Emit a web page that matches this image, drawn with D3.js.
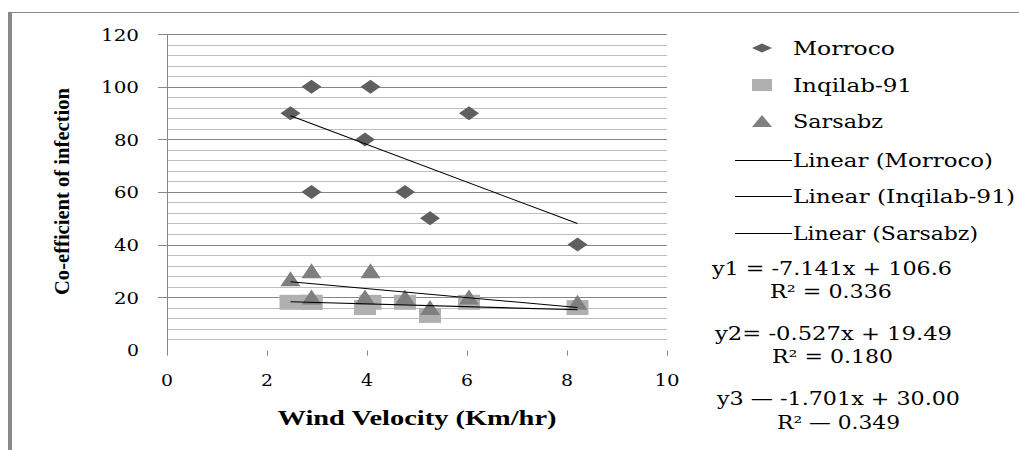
<!DOCTYPE html>
<html>
<head>
<meta charset="utf-8">
<script src="https://cdnjs.cloudflare.com/ajax/libs/d3/7.8.5/d3.min.js"></script>
<style>
  body { margin: 0; background: #fff; }
  text { fill: #000; }
</style>
</head>
<body>
<div id="chart"></div>
<script>
// Data
var windVelocity = [2.47, 2.89, 2.89, 3.96, 4.07, 4.76, 5.26, 6.04, 8.21];
var morroco   = [90, 100, 60, 80, 100, 60, 50, 90, 40];
var inqilab91 = [18, 18, 18, 16, 18, 18, 13, 18, 16];
var sarsabz   = [27, 30, 20, 20, 30, 20, 16, 20, 18];

var seriesNames = ["Morroco", "Inqilab-91", "Sarsabz"];
var slopes = [-7.141, -0.527, -1.701];
var intercepts = [106.6, 19.49, 30.00];

var xTicks = [0, 2, 4, 6, 8, 10];
var yTicks = [0, 20, 40, 60, 80, 100, 120];
var yMinorTicks = d3.range(0, 121, 4);

var equationLabels = ["y1 = -7.141x + 106.6", "R\u00b2 = 0.336",
                      "y2= -0.527x + 19.49", "R\u00b2 = 0.180",
                      "y3 \u2014 -1.701x + 30.00", "R\u00b2 \u2014 0.349"];

// SVG area
var svgWidth = 1019;
var svgHeight = 450;
var serif = "'DejaVu Serif', 'Liberation Serif', serif";
var serifBold = "'Liberation Serif', 'Times New Roman', serif";

var svg = d3.select("#chart")
  .append("svg")
  .attr("width", svgWidth)
  .attr("height", svgHeight)
  .attr("font-family", serif);

// outer frame (top + left edges only show)
svg.append("line").attr("x1", 10).attr("x2", svgWidth).attr("y1", 12.5).attr("y2", 12.5)
  .attr("stroke", "#8a8a8a").attr("stroke-width", 1.2);
svg.append("rect").attr("x", 8).attr("y", 12).attr("width", 4).attr("height", svgHeight - 12)
  .attr("fill", "#8a8a8a");

// scales
var xScale = d3.scaleLinear().domain([0, 10]).range([167, 667]);
var yScale = d3.scaleLinear().domain([0, 120]).range([349.6, 34.3]);

// minor gridlines
svg.append("g").selectAll("line")
  .data(yMinorTicks.filter(d => d % 20 !== 0))
  .enter().append("line")
  .attr("x1", xScale(0)).attr("x2", xScale(10))
  .attr("y1", d => Math.round(yScale(d)) + 0.5).attr("y2", d => Math.round(yScale(d)) + 0.5)
  .attr("stroke", "#bdbdbd");

// major gridlines + left ticks
svg.append("g").selectAll("line")
  .data(yTicks.filter(d => d > 0))
  .enter().append("line")
  .attr("x1", xScale(0) - 9).attr("x2", xScale(10))
  .attr("y1", d => Math.round(yScale(d)) + 0.5).attr("y2", d => Math.round(yScale(d)) + 0.5)
  .attr("stroke", "#868686");

// y axis line
svg.append("line")
  .attr("x1", xScale(0) + 0.5).attr("x2", xScale(0) + 0.5)
  .attr("y1", yScale(120)).attr("y2", yScale(0) + 6)
  .attr("stroke", "#868686");

// x tick marks
svg.append("g").selectAll("line")
  .data(xTicks.filter(d => d > 0))
  .enter().append("line")
  .attr("x1", d => Math.round(xScale(d)) + 0.5).attr("x2", d => Math.round(xScale(d)) + 0.5)
  .attr("y1", yScale(0) + 1).attr("y2", yScale(0) + 6)
  .attr("stroke", "#868686");

// y tick labels
svg.append("g").selectAll("text")
  .data(yTicks)
  .enter().append("text")
  .attr("x", 139)
  .attr("y", d => yScale(d) + 6.5)
  .attr("text-anchor", "end")
  .attr("font-size", 17)
  .attr("textLength", d => String(d).length * 13 - 1)
  .attr("lengthAdjust", "spacingAndGlyphs")
  .text(d => d);

// x tick labels
svg.append("g").selectAll("text")
  .data(xTicks)
  .enter().append("text")
  .attr("x", d => xScale(d))
  .attr("y", 386)
  .attr("text-anchor", "middle")
  .attr("font-size", 17)
  .attr("textLength", d => String(d).length * 13 - 1)
  .attr("lengthAdjust", "spacingAndGlyphs")
  .text(d => d);

// axis titles
svg.append("text")
  .attr("x", 417).attr("y", 425)
  .attr("text-anchor", "middle")
  .attr("font-family", serifBold)
  .attr("font-size", 21).attr("font-weight", "bold")
  .attr("textLength", 279).attr("lengthAdjust", "spacingAndGlyphs")
  .text("Wind Velocity (Km/hr)");

svg.append("text")
  .attr("transform", "translate(69,191.5) rotate(-90)")
  .attr("text-anchor", "middle")
  .attr("font-family", serifBold)
  .attr("font-size", 21).attr("font-weight", "bold")
  .attr("textLength", 207).attr("lengthAdjust", "spacingAndGlyphs")
  .text("Co-efficient of infection");

// marker shapes
function diamond(w, h) { return `M${-w/2},0L0,${-h/2}L${w/2},0L0,${h/2}Z`; }
function square(w, h) { return `M${-w/2},${-h/2}h${w}v${h}h${-w}Z`; }
function triangle(w, h) { return `M${-w/2},${h/2}L0,${-h/2}L${w/2},${h/2}Z`; }

var shapes = [diamond, square, triangle];
var colors = ["#5f5f5f", "#b0b0b0", "#7f7f7f"];
var markerSize = [[20, 14], [22, 15], [20, 15]];
var allSeries = [morroco, inqilab91, sarsabz];

// squares first, then triangles, then diamonds (triangles sit over squares)
[1, 2, 0].forEach(function(s) {
  svg.append("g").selectAll("path")
    .data(allSeries[s])
    .enter().append("path")
    .attr("d", shapes[s](markerSize[s][0], markerSize[s][1]))
    .attr("transform", (d, i) => `translate(${xScale(windVelocity[i])},${yScale(d)})`)
    .attr("fill", colors[s]);
});

// linear trendlines
var xMin = d3.min(windVelocity), xMax = d3.max(windVelocity);
seriesNames.forEach(function(name, s) {
  svg.append("line")
    .attr("x1", xScale(xMin)).attr("y1", yScale(slopes[s] * xMin + intercepts[s]))
    .attr("x2", xScale(xMax)).attr("y2", yScale(slopes[s] * xMax + intercepts[s]))
    .attr("stroke", "#000").attr("stroke-width", 1.1);
});

// legend
var legendMarkerX = 762;
var legendRowsY = [48, 85, 121, 160, 196, 233];
var legendTextWidths = [102, 119, 90];
var legendMarker = [[20, 9], [20, 12], [20, 12]];

seriesNames.forEach(function(name, s) {
  svg.append("path")
    .attr("d", shapes[s](legendMarker[s][0], legendMarker[s][1]))
    .attr("transform", `translate(${legendMarkerX},${legendRowsY[s]})`)
    .attr("fill", colors[s]);
  svg.append("text")
    .attr("x", 793).attr("y", legendRowsY[s] + 6.5)
    .attr("font-size", 18)
    .attr("textLength", legendTextWidths[s]).attr("lengthAdjust", "spacingAndGlyphs")
    .text(name);
});

var linearWidths = [200, 222, 185];
seriesNames.forEach(function(name, s) {
  var yy = legendRowsY[s + 3];
  svg.append("line")
    .attr("x1", 735).attr("x2", 792)
    .attr("y1", yy + 0.5).attr("y2", yy + 0.5)
    .attr("stroke", "#000");
  svg.append("text")
    .attr("x", 793).attr("y", yy + 7)
    .attr("font-size", 18)
    .attr("textLength", linearWidths[s]).attr("lengthAdjust", "spacingAndGlyphs")
    .text("Linear (" + name + ")");
});

// equations
var eqX = [712, 770, 715, 772, 717, 777];
var eqW = [240, 122, 237, 121, 243, 123];
var eqY = [275, 298, 340, 363, 405, 429];
svg.append("g").selectAll("text")
  .data(equationLabels)
  .enter().append("text")
  .attr("x", (d, i) => eqX[i])
  .attr("y", (d, i) => eqY[i])
  .attr("font-size", 18)
  .attr("textLength", (d, i) => eqW[i])
  .attr("lengthAdjust", "spacingAndGlyphs")
  .text(d => d);
</script>
</body>
</html>
